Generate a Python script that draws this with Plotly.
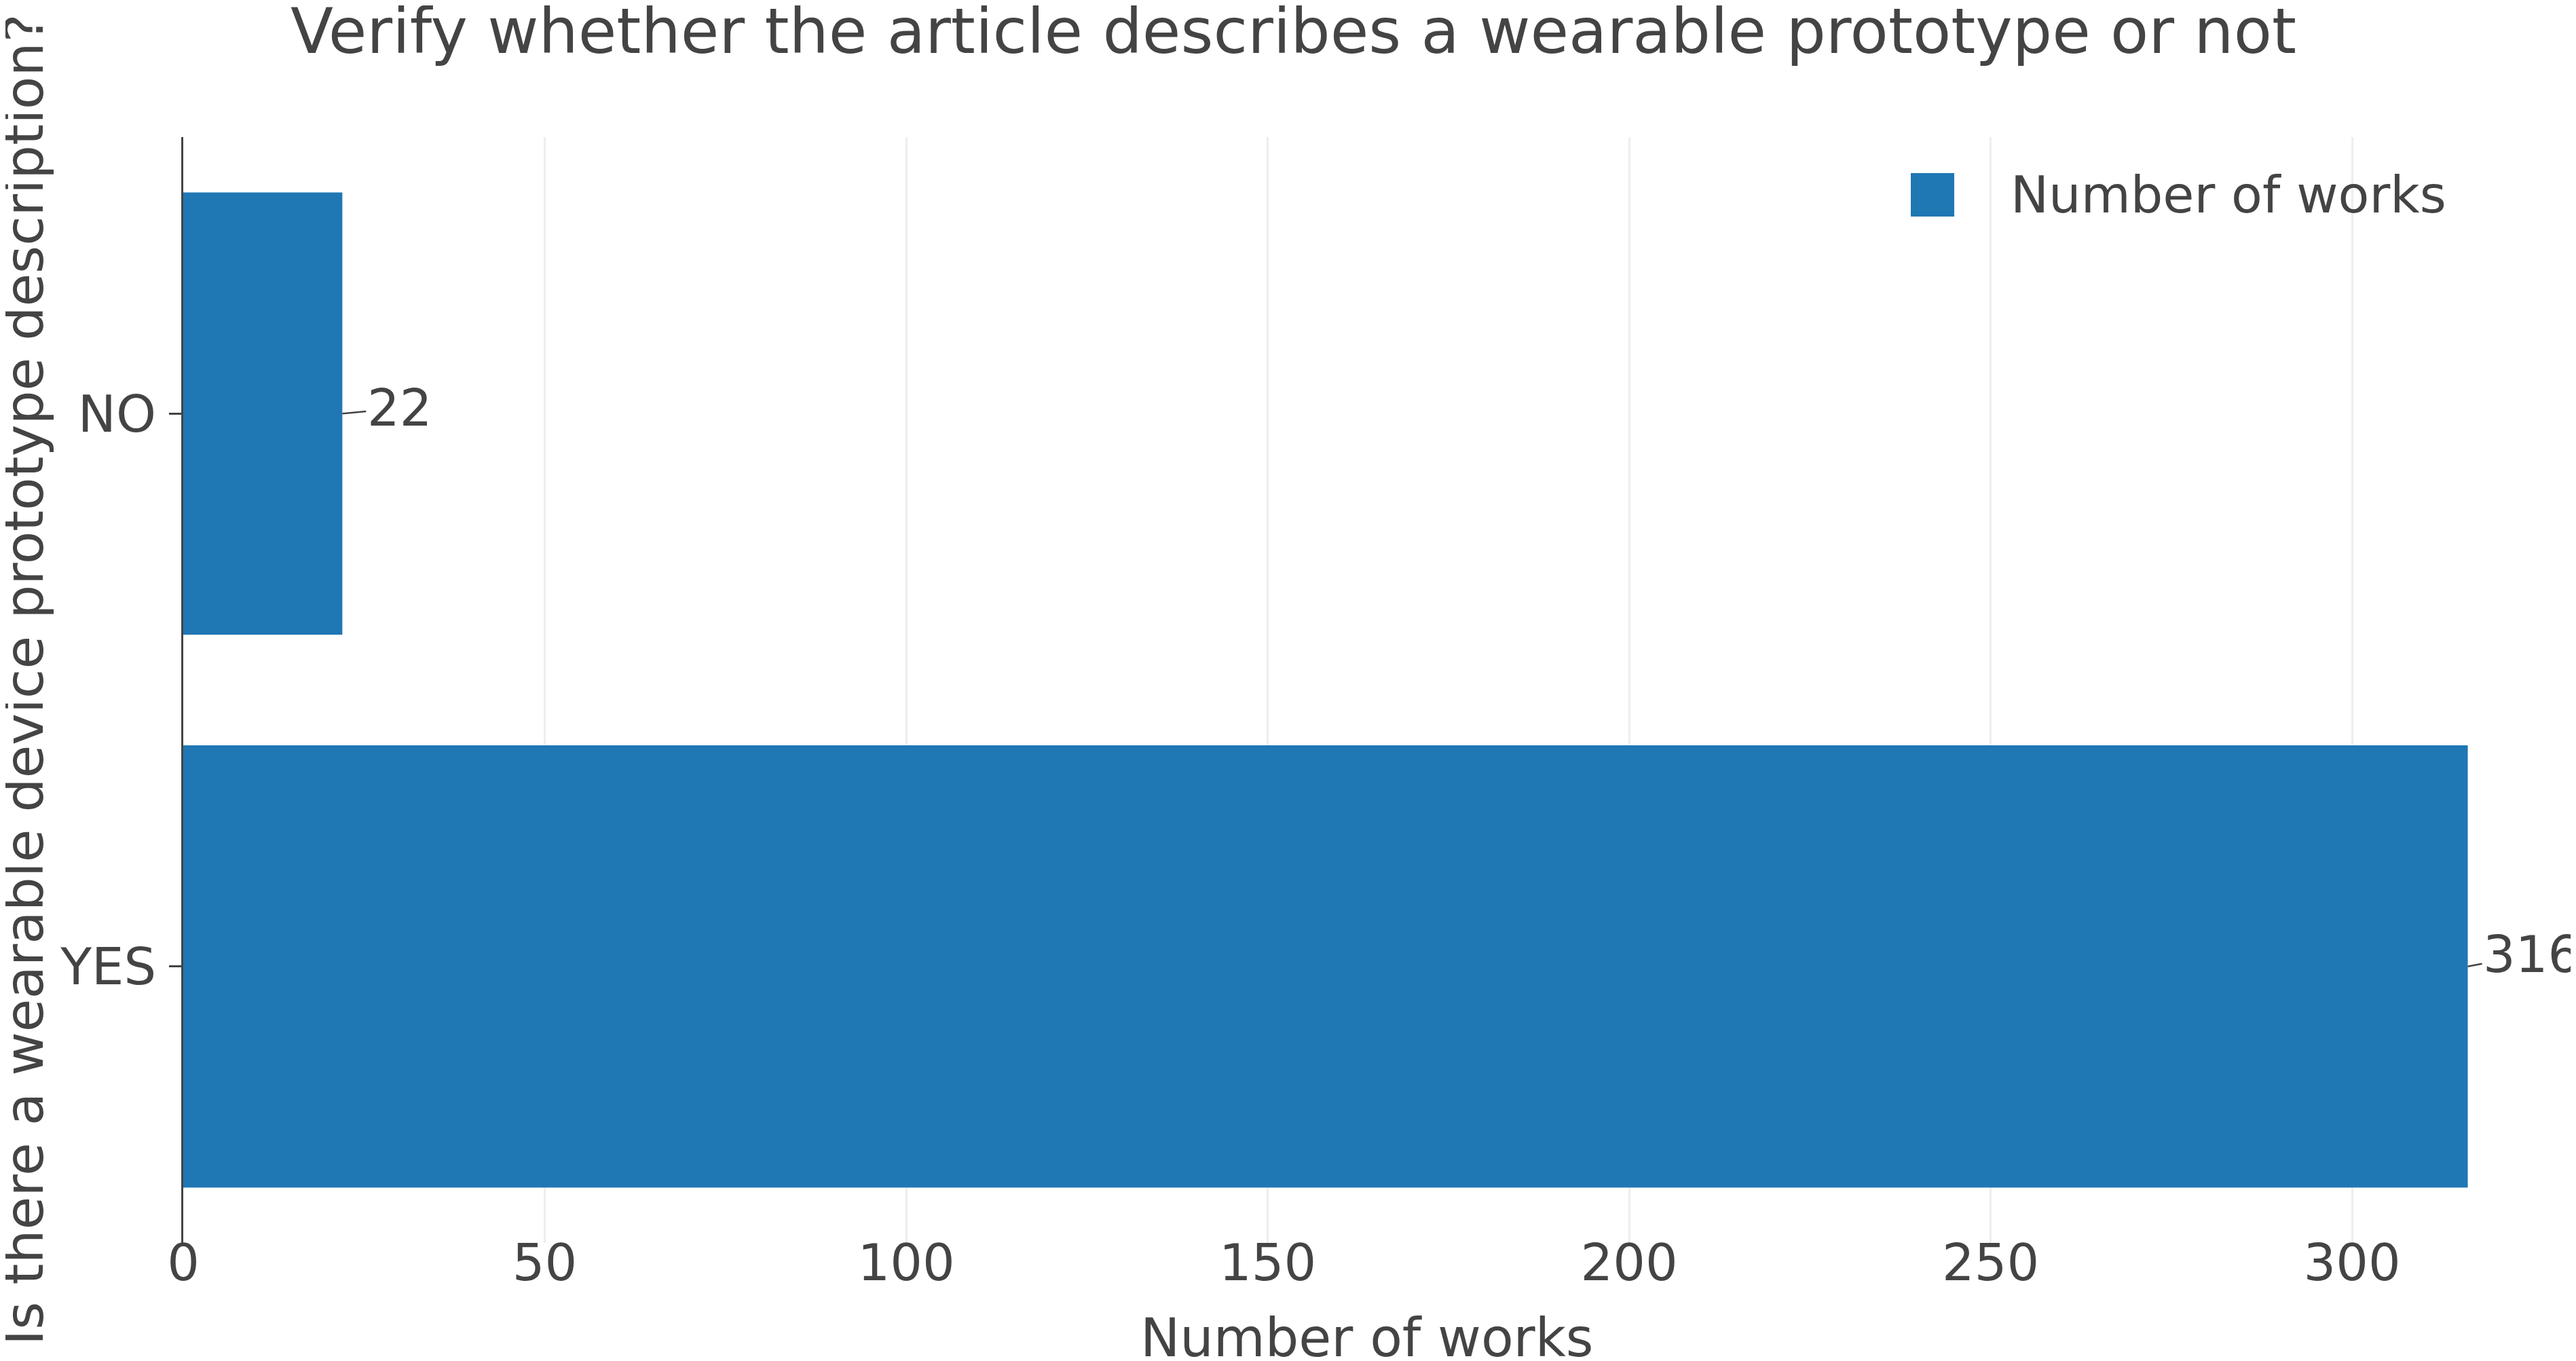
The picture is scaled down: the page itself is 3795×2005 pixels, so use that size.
import plotly.graph_objects as go

# ---- data ----
categories = ["YES", "NO"]
counts = [316, 22]
x_ticks = [0, 50, 100, 150, 200, 250, 300]
series_name = "Number of works"
title_text = "Verify whether the article describes a wearable prototype or not"
x_title = "Number of works"
y_title = "Is there a wearable device prototype description?"

# ---- style ----
W, H = 3795, 2005
ML, MR, MT, MB = 262, 46, 194, 182
BAR = "#1f77b4"
INK = "#444444"
GRID = "#eeeeee"
FONT = "DejaVu Sans"
FS = 75
TFS = 92
XT_FS = 78
YT_FS = 79
label_offsets = {"YES": (94, -18), "NO": (84, -8)}
x_max = 327.4

pw = W - ML - MR
ph = H - MT - MB

fig = go.Figure(
    go.Bar(
        x=counts,
        y=categories,
        orientation="h",
        name=series_name,
        marker=dict(color=BAR, line=dict(width=0)),
        showlegend=False,
    )
)

annotations = []
for cat, val in zip(categories, counts):
    ax, ay = label_offsets[cat]
    annotations.append(
        dict(
            x=val, y=cat, xref="x", yref="y",
            text=str(val), showarrow=True, arrowhead=0,
            arrowwidth=2.5, arrowcolor=INK, ax=ax, ay=ay,
            font=dict(family=FONT, size=FS, color=INK),
        )
    )

# manual legend (symbol sized like the reference)
sym_x0, sym_x1 = (2807 - ML) / pw, (2871 - ML) / pw
sym_y0, sym_y1 = (H - MB - 311) / ph, (H - MB - 247) / ph
annotations.append(
    dict(
        x=(2952 - ML) / pw, y=(sym_y0 + sym_y1) / 2, xref="paper", yref="paper",
        xanchor="left", yanchor="middle", text=series_name, showarrow=False,
        font=dict(family=FONT, size=FS, color=INK),
    )
)
# axis titles
annotations.append(
    dict(
        x=(28 - ML) / pw, y=(H - MB - 994) / ph, xref="paper", yref="paper",
        xanchor="center", yanchor="middle", textangle=-90, text=y_title,
        showarrow=False, font=dict(family=FONT, size=YT_FS, color=INK),
    )
)
annotations.append(
    dict(
        x=0.5, y=(H - MB - 1963) / ph, xref="paper", yref="paper",
        xanchor="center", yanchor="middle", text=x_title,
        showarrow=False, font=dict(family=FONT, size=XT_FS, color=INK),
    )
)

fig.update_layout(
    width=W, height=H,
    margin=dict(l=ML, r=MR, t=MT, b=MB, autoexpand=False),
    paper_bgcolor="white", plot_bgcolor="white",
    font=dict(family=FONT, size=FS, color=INK),
    title=dict(text=title_text, x=0.5, xanchor="center", y=1 - 38 / H, yanchor="middle",
               font=dict(family=FONT, size=TFS, color=INK)),
    bargap=0.2,
    annotations=annotations,
    shapes=[dict(type="rect", xref="paper", yref="paper", x0=sym_x0, x1=sym_x1,
                 y0=sym_y0, y1=sym_y1, fillcolor=BAR, line=dict(width=0))],
    showlegend=False,
)
fig.update_xaxes(
    range=[0, x_max], tickvals=x_ticks, ticktext=[str(t) for t in x_ticks],
    showgrid=True, gridcolor=GRID, gridwidth=3, zeroline=False, showline=False,
    ticks="", ticklabelstandoff=-21, tickfont=dict(family=FONT, size=FS, color=INK),
    automargin=False,
)
fig.update_yaxes(
    showgrid=False, zeroline=False, showline=True, linecolor=INK, linewidth=3,
    ticks="outside", ticklen=18, tickwidth=2.5, tickcolor=INK, ticklabelstandoff=4,
    tickfont=dict(family=FONT, size=FS, color=INK),
    automargin=False,
)

fig.write_html("out.html")
